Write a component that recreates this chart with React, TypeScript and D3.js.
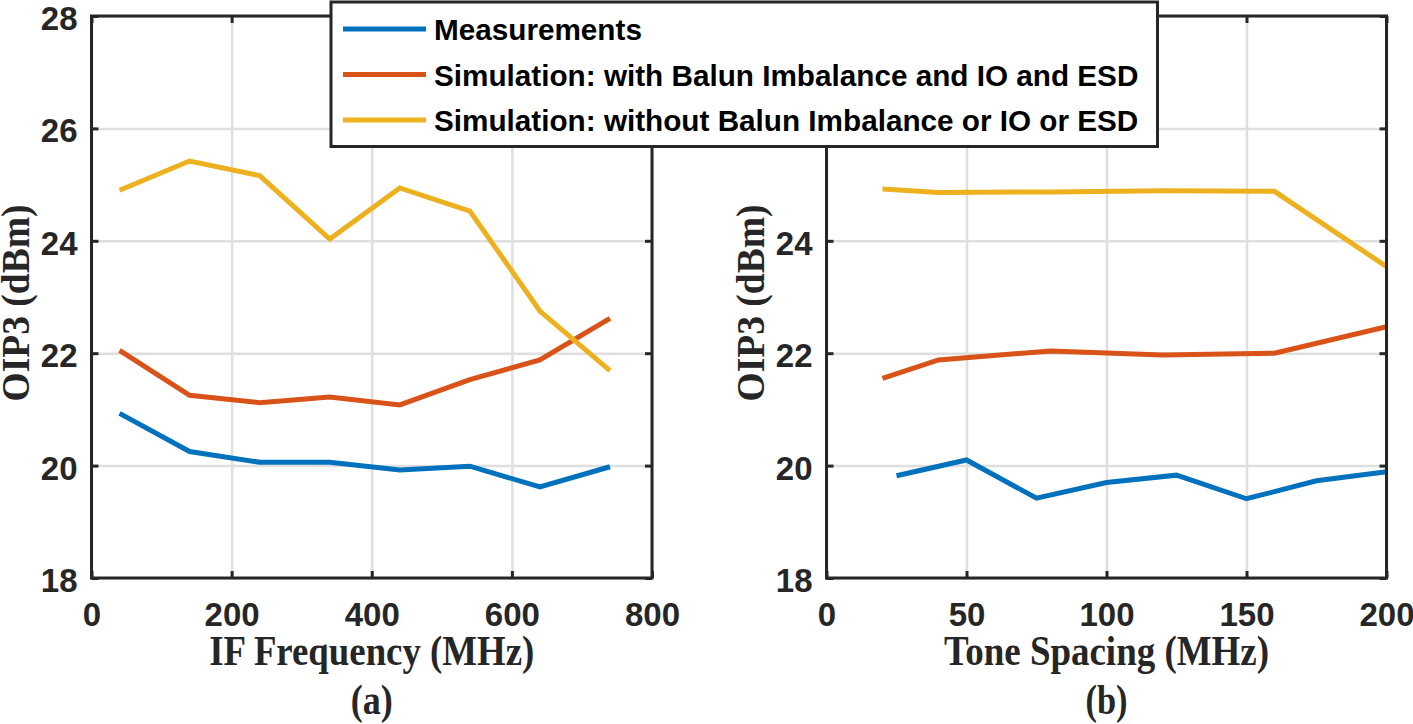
import * as d3 from 'd3'
import { useEffect, useRef } from 'react'

// shared
const Y_TICKS = [18, 20, 22, 24, 26, 28]
const SERIES_NAMES = [
  'Measurements',
  'Simulation: with Balun Imbalance and IO and ESD',
  'Simulation: without Balun Imbalance or IO or ESD',
]
const COLORS = ['#0072BD', '#D95319', '#EDB120']

// (a) IF frequency sweep
const IF_TICKS = [0, 200, 400, 600, 800]
const IF_FREQ = [40, 140, 240, 340, 440, 540, 640, 740]
const IF_MEAS = [20.93, 20.25, 20.06, 20.06, 19.92, 19.99, 19.62, 19.98]
const IF_SIM_WITH = [22.05, 21.25, 21.12, 21.22, 21.08, 21.53, 21.88, 22.62]
const IF_SIM_WITHOUT = [24.9, 25.42, 25.16, 24.03, 24.94, 24.53, 22.75, 21.69]

// (b) tone spacing sweep
const TONE_TICKS = [0, 50, 100, 150, 200]
const TONE_MEAS_X = [25, 50, 75, 100, 125, 150, 175, 200]
const TONE_MEAS = [19.82, 20.1, 19.42, 19.7, 19.83, 19.41, 19.73, 19.89]
const TONE_SIM_X = [20, 40, 80, 120, 160, 200]
const TONE_SIM_WITH = [21.55, 21.88, 22.04, 21.97, 22.0, 22.47]
const TONE_SIM_WITHOUT = [24.92, 24.86, 24.87, 24.89, 24.88, 23.54]

const SANS = '"Liberation Sans", Arial, sans-serif'
const SERIF = '"Liberation Serif", "Times New Roman", serif'
const AXIS_COLOR = '#262626'

type Series = { xs: number[]; ys: number[]; color: string }

export default function App() {
  const ref = useRef<HTMLDivElement>(null)

  useEffect(() => {
    const width = 1413
    const height = 724
    const plotTop = 16
    const plotBottom = 578

    const svg = d3
      .create('svg')
      .attr('width', width)
      .attr('height', height)
      .attr('viewBox', [0, 0, width, height])
      .style('display', 'block')
      .style('background', '#fff')

    const y = d3.scaleLinear().domain([18, 28]).range([plotBottom, plotTop])

    function panel(
      left: number,
      right: number,
      xMax: number,
      xTicks: number[],
      series: Series[],
      xLabel: string,
      caption: string,
    ) {
      const x = d3.scaleLinear().domain([0, xMax]).range([left, right])
      const g = svg.append('g')
      const cx = (left + right) / 2

      /* grid */
      g.append('g')
        .attr('transform', `translate(0, ${plotBottom})`)
        .call(
          d3
            .axisBottom(x)
            .tickValues(xTicks)
            .tickSize(-(plotBottom - plotTop))
            .tickFormat(() => ''),
        )
        .call((a) => a.select('.domain').remove())
        .call((a) =>
          a.selectAll('line').attr('stroke', '#dfdfdf').attr('stroke-width', 2.5),
        )
      g.append('g')
        .attr('transform', `translate(${left}, 0)`)
        .call(
          d3
            .axisLeft(y)
            .tickValues(Y_TICKS)
            .tickSize(-(right - left))
            .tickFormat(() => ''),
        )
        .call((a) => a.select('.domain').remove())
        .call((a) =>
          a.selectAll('line').attr('stroke', '#dfdfdf').attr('stroke-width', 2.5),
        )

      /* data lines */
      series.forEach((s) => {
        const pts = s.xs.map((v, i) => [v, s.ys[i]] as [number, number])
        g.append('path')
          .attr('fill', 'none')
          .attr('stroke', s.color)
          .attr('stroke-width', 5)
          .attr(
            'd',
            d3
              .line<[number, number]>()
              .x((d) => x(d[0]))
              .y((d) => y(d[1]))(pts),
          )
      })

      /* box + inward ticks on four sides */
      const styleAxis = (a: d3.Selection<SVGGElement, unknown, null, undefined>) => {
        a.select('.domain').remove()
        a.selectAll('line').attr('stroke', AXIS_COLOR).attr('stroke-width', 3)
        a.selectAll('text')
          .attr('fill', AXIS_COLOR)
          .style('font', `bold 33px ${SANS}`)
      }
      g.append('g')
        .attr('transform', `translate(0, ${plotBottom})`)
        .call(d3.axisBottom(x).tickValues(xTicks).tickSizeInner(-7).tickSizeOuter(0).tickPadding(25))
        .call(styleAxis)
      g.append('g')
        .attr('transform', `translate(0, ${plotTop})`)
        .call(d3.axisTop(x).tickValues(xTicks).tickSizeInner(-7).tickSizeOuter(0).tickFormat(() => ''))
        .call(styleAxis)
      g.append('g')
        .attr('transform', `translate(${left}, 0)`)
        .call(d3.axisLeft(y).tickValues(Y_TICKS).tickSizeInner(-7).tickSizeOuter(0).tickPadding(14))
        .call(styleAxis)
        .call((a) => a.selectAll('text').attr('dy', '0.41em'))
      g.append('g')
        .attr('transform', `translate(${right}, 0)`)
        .call(d3.axisRight(y).tickValues(Y_TICKS).tickSizeInner(-7).tickSizeOuter(0).tickFormat(() => ''))
        .call(styleAxis)
      g.append('rect')
        .attr('x', left)
        .attr('y', plotTop)
        .attr('width', right - left)
        .attr('height', plotBottom - plotTop)
        .attr('fill', 'none')
        .attr('stroke', AXIS_COLOR)
        .attr('stroke-width', 3)

      /* labels */
      g.append('text')
        .attr('transform', `translate(${left - 63}, 303) rotate(-90)`)
        .attr('text-anchor', 'middle')
        .attr('textLength', 197)
        .attr('lengthAdjust', 'spacingAndGlyphs')
        .attr('fill', AXIS_COLOR)
        .style('font', `bold 40px ${SERIF}`)
        .text('OIP3 (dBm)')
      g.append('text')
        .attr('x', cx)
        .attr('y', 665)
        .attr('text-anchor', 'middle')
        .attr('textLength', 325)
        .attr('lengthAdjust', 'spacingAndGlyphs')
        .attr('fill', AXIS_COLOR)
        .style('font', `bold 42px ${SERIF}`)
        .text(xLabel)
      g.append('text')
        .attr('x', cx)
        .attr('y', 714)
        .attr('text-anchor', 'middle')
        .attr('textLength', 42)
        .attr('lengthAdjust', 'spacingAndGlyphs')
        .attr('fill', AXIS_COLOR)
        .style('font', `bold 42px ${SERIF}`)
        .text(caption)
    }

    panel(
      91.5,
      652,
      800,
      IF_TICKS,
      [
        { xs: IF_FREQ, ys: IF_MEAS, color: COLORS[0] },
        { xs: IF_FREQ, ys: IF_SIM_WITH, color: COLORS[1] },
        { xs: IF_FREQ, ys: IF_SIM_WITHOUT, color: COLORS[2] },
      ],
      'IF Frequency (MHz)',
      '(a)',
    )
    panel(
      826.5,
      1386.5,
      200,
      TONE_TICKS,
      [
        { xs: TONE_MEAS_X, ys: TONE_MEAS, color: COLORS[0] },
        { xs: TONE_SIM_X, ys: TONE_SIM_WITH, color: COLORS[1] },
        { xs: TONE_SIM_X, ys: TONE_SIM_WITHOUT, color: COLORS[2] },
      ],
      'Tone Spacing (MHz)',
      '(b)',
    )

    /* legend */
    const legend = svg.append('g')
    legend
      .append('rect')
      .attr('x', 331)
      .attr('y', 2)
      .attr('width', 826.5)
      .attr('height', 144.5)
      .attr('fill', '#fff')
      .attr('stroke', AXIS_COLOR)
      .attr('stroke-width', 3)
    const rows = legend
      .selectAll('g.row')
      .data(SERIES_NAMES)
      .join('g')
      .attr('class', 'row')
      .attr('transform', (_, i) => `translate(0, ${29 + i * 45.5})`)
    rows
      .append('line')
      .attr('x1', 343)
      .attr('x2', 426)
      .attr('stroke', (_, i) => COLORS[i])
      .attr('stroke-width', 5)
    rows
      .append('text')
      .attr('x', 434)
      .attr('y', 11)
      .attr('fill', '#000')
      .style('font', `bold 29.7px ${SANS}`)
      .text((d) => d)

    const node = svg.node()
    if (ref.current && node) {
      ref.current.replaceChildren(node)
    }
  }, [])

  return <div ref={ref} style={{ position: 'absolute', left: 0, top: 0 }} />
}
